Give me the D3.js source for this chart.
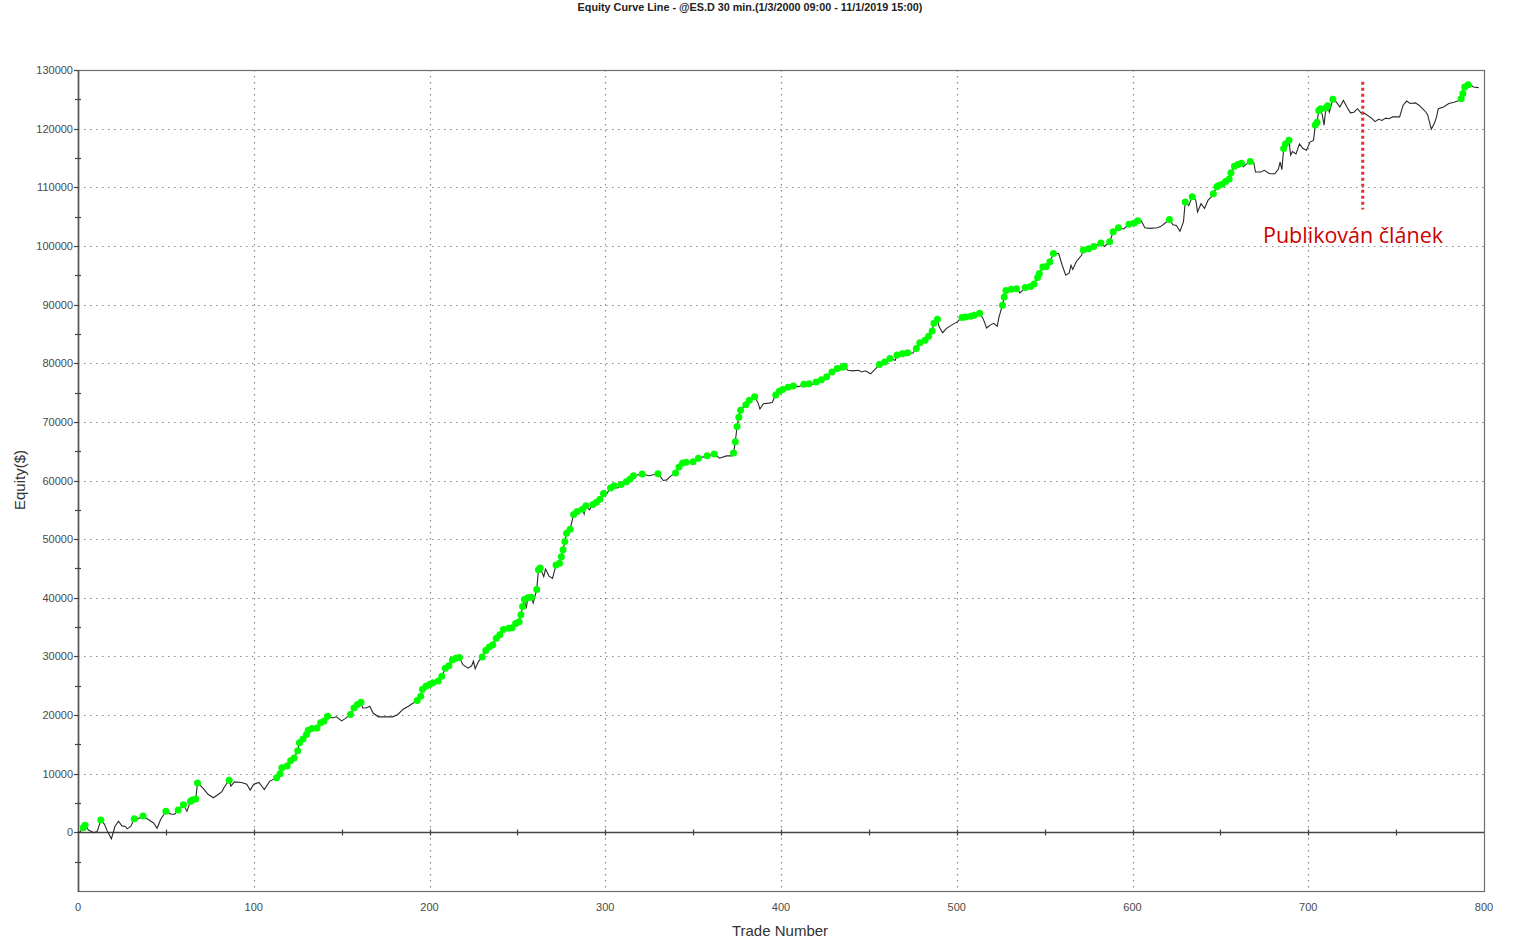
<!DOCTYPE html>
<html><head><meta charset="utf-8">
<script src="https://cdn.jsdelivr.net/npm/d3@7"></script>
<style>body{margin:0;background:#fff}svg{display:block}</style>
</head><body>
<svg id="c" width="1514" height="950"></svg>
<script>
const title = "Equity Curve Line - @ES.D 30 min.(1/3/2000 09:00 - 11/1/2019 15:00)";
const xTicks = [0,100,200,300,400,500,600,700,800];
const yTicks = [0,10000,20000,30000,40000,50000,60000,70000,80000,90000,100000,110000,120000,130000];
const annotationTrade = 731;
const annotationRange = [128000, 106200];
const annotationText = "Publikován článek";
// [trade number, equity $]
const curve = [
[0,0],[1,0],[3,800],[4,1200],[6,400],[8,100],[9,-50],[11,200],[13,2100],[15,1400],[17,0],[19,-1100],[21,1000],[23,1900],[25,1100],[27,1000],[28,600],[30,1000],[32,2300],[34,2300],[37,2800],[40,2200],[43,1600],[45,700],[47,2200],[50,3600],[53,3100],[55,3100],[57,3800],[60,4700],[62,3600],[64,5300],[65,5500],[67,5700],[68,8400],[71,7600],[74,6500],[77,5900],[80,6500],[82,7000],[83,7600],[86,8900],[87,7900],[89,8600],[93,8500],[96,8200],[98,7200],[100,8200],[103,8500],[106,7300],[109,8700],[113,9300],[115,10000],[116,11000],[119,11300],[121,12200],[123,12700],[125,13900],[126,15300],[128,15900],[130,16700],[131,17400],[133,17700],[136,17800],[138,18700],[140,19000],[142,19800],[145,19500],[147,19700],[150,19000],[152,19400],[155,20100],[157,21200],[159,21800],[161,22200],[162,21200],[164,21200],[166,21500],[168,20300],[171,19700],[174,19700],[176,19700],[179,19700],[182,20100],[185,21000],[188,21500],[191,22100],[193,22500],[195,23200],[196,24400],[198,24900],[200,25200],[202,25500],[205,25800],[207,26600],[209,28000],[211,28400],[213,29400],[215,29700],[217,29800],
[219,28600],[222,28000],[224,28400],[225,29200],[226,27900],[228,29200],[230,29900],[232,31000],[234,31600],[236,32000],[238,33100],[240,33700],[242,34600],[245,34800],[247,34900],[249,35600],[251,35900],[252,37100],[253,38500],[254,39700],[255,38200],[256,40000],[258,40100],[259,39100],[261,41400],[262,44800],[263,45100],[265,43600],[266,44900],[268,43700],[270,43300],[272,45600],[274,45900],[275,47000],[276,48200],[277,49600],[278,51000],[280,51700],[282,54200],[284,54700],[287,55100],[288,54300],[289,55700],[291,55000],[293,55900],[295,56300],[297,56800],[299,57800],[300,57400],[301,57800],[303,58700],[305,59100],[307,58700],[309,59300],[312,59800],[314,60200],[316,60800],[321,61100],[325,60800],[330,61150],[332,60400],[333,60000],[335,60100],[337,60700],[340,61300],[342,62300],[344,63000],[346,63100],[350,63200],[353,63800],[358,64200],[362,64500],[365,63800],[369,64200],[372,64200],[373,64700],[374,66600],[375,69200],[376,70800],[377,72000],[380,72900],[382,73700],[385,74300],[387,73200],[388,72200],[390,73100],[393,73200],[395,73300],[397,74600],[399,75200],[401,75500],[404,75900],
[407,76100],[410,76000],[413,76400],[416,76500],[418,76400],[420,76800],[423,77200],[426,77700],[429,78500],[432,79100],[435,79300],[436,79500],[438,78800],[441,78700],[444,78800],[446,78500],[448,78700],[451,78200],[454,79100],[456,79800],[459,80200],[462,80800],[465,80500],[466,81400],[469,81600],[472,81800],[475,81700],[477,82500],[479,83500],[482,83900],[484,84600],[486,85500],[487,86800],[489,87500],[490,86200],[492,85200],[494,85900],[497,86500],[500,87000],[503,87800],[505,87900],[508,88000],[510,88200],[513,88500],[515,87600],[517,86000],[519,86500],[521,86800],[523,86300],[524,87800],[526,89900],[527,91300],[528,92400],[531,92600],[534,92700],[536,92000],[539,92900],[542,93100],[544,93500],[546,94600],[547,95300],[549,96400],[551,96500],[553,97300],[555,98700],[558,98700],[560,96700],[562,95000],[564,95400],[565,96700],[566,96000],[568,97300],[571,98400],[572,99300],[575,99500],[578,99900],[582,100500],[584,99900],[587,100700],[589,102400],[592,103100],[595,102900],[598,103700],[601,103900],[603,104300],
[605,104300],[607,103100],[610,103000],[614,103100],[616,103300],[619,104000],[621,104500],[623,103600],[625,103500],[627,102500],[629,104100],[630,107500],[632,106900],[634,108400],[636,107800],[637,105800],[639,107200],[641,106400],[643,107800],[645,108400],[646,108900],[648,110100],[649,110300],[651,110500],[653,111000],[655,111400],[656,112500],[658,113600],[660,113900],[662,114100],[663,113500],[665,114000],[667,114400],[669,114200],[670,112600],[673,112600],[675,112900],[678,112300],[681,112300],[683,113100],[684,114300],[685,113000],[686,116600],[687,117400],[689,118000],[690,115500],[691,116100],[693,115700],[695,117400],[697,116600],[699,116300],[701,117700],[703,118000],[704,120600],[705,121100],[706,123100],[707,123400],[708,122300],[709,120600],[710,123500],[711,123900],[712,122800],[714,125000],[716,124500],[718,123700],[720,124800],[722,123700],[724,122700],[726,122800],[728,123400],[730,122700],[731,122800],[733,122400],[736,121800],[738,121200],[740,121600],[742,121400],[744,121800],[746,121700],[748,122000],[750,122000],[752,122000],[754,124000],[756,124700],[758,124300],[761,124400],[763,124000],[765,123400],[767,122800],[768,122300],[769,121100],[770,119900],[772,121100],[773,122000],[774,123400],[777,123700],[780,124300],[783,124500],[785,124700],[787,125100],[788,126000],[789,127100],[791,127500],[792,127500],[794,127100],[797,127000]
];

const svg = d3.select("#c");
const L = 78, R = 1484, T = 70, B = 891;
const x = d3.scaleLinear().domain([0, 800]).range([L, R]);
const y = d3.scaleLinear().domain([-10000, 130000]).range([B, T]);
const font = "'Liberation Sans', Arial, sans-serif";

svg.append("text").attr("x", 750).attr("y", 11).attr("text-anchor", "middle")
  .attr("font-family", font).attr("font-weight", "bold").attr("font-size", 10.8)
  .attr("fill", "#222").text(title);

// grid
const grid = svg.append("g").attr("stroke", "#8a8a8a").attr("stroke-width", 1.2).attr("stroke-dasharray", "1.5,4.5");
grid.selectAll("line.h").data(yTicks.filter(v => v > 0 && v < 130000)).enter().append("line")
  .attr("x1", L).attr("x2", R).attr("y1", d => Math.round(y(d)) + 0.5).attr("y2", d => Math.round(y(d)) + 0.5);
grid.selectAll("line.v").data(xTicks.filter(v => v > 0 && v < 800)).enter().append("line")
  .attr("y1", T).attr("y2", B).attr("x1", d => Math.round(x(d)) + 0.5).attr("x2", d => Math.round(x(d)) + 0.5);

// frame
svg.append("rect").attr("x", L + 0.5).attr("y", T + 0.5).attr("width", R - L).attr("height", B - T)
  .attr("fill", "none").attr("stroke", "#707070").attr("stroke-width", 1.2);
svg.append("line").attr("x1", L + 0.5).attr("x2", L + 0.5).attr("y1", T).attr("y2", B + 1)
  .attr("stroke", "#555").attr("stroke-width", 1.6);

// zero line
const y0 = Math.round(y(0)) + 0.5;
svg.append("line").attr("x1", L).attr("x2", R).attr("y1", y0).attr("y2", y0).attr("stroke", "#444").attr("stroke-width", 1.3);
const zeroTicks = d3.range(50, 800, 50);
svg.selectAll("line.zt").data(zeroTicks).enter().append("line")
  .attr("x1", d => Math.round(x(d)) + 0.5).attr("x2", d => Math.round(x(d)) + 0.5)
  .attr("y1", y0 - 3).attr("y2", y0 + 3).attr("stroke", "#444").attr("stroke-width", 1.2);

// y axis ticks
const yMinor = d3.range(-5000, 130000, 10000);
svg.selectAll("line.ym").data(yMinor).enter().append("line")
  .attr("x1", L - 3).attr("x2", L + 3).attr("y1", d => Math.round(y(d)) + 0.5).attr("y2", d => Math.round(y(d)) + 0.5)
  .attr("stroke", "#444").attr("stroke-width", 1.2);
svg.selectAll("line.yM").data(yTicks).enter().append("line")
  .attr("x1", L - 4).attr("x2", L).attr("y1", d => Math.round(y(d)) + 0.5).attr("y2", d => Math.round(y(d)) + 0.5)
  .attr("stroke", "#444").attr("stroke-width", 1.2);
svg.selectAll("text.yl").data(yTicks).enter().append("text")
  .attr("x", L - 5).attr("y", d => y(d) + 4).attr("text-anchor", "end")
  .attr("font-family", font).attr("font-size", 11).attr("fill", "#4a4a4a").text(d => d);
svg.selectAll("text.xl").data(xTicks).enter().append("text")
  .attr("x", d => x(d)).attr("y", B + 20).attr("text-anchor", "middle")
  .attr("font-family", font).attr("font-size", 11).attr("fill", "#4a4a4a").text(d => d);

// axis titles
svg.append("text").attr("transform", "translate(25,480) rotate(-90)").attr("text-anchor", "middle")
  .attr("font-family", font).attr("font-size", 15).attr("fill", "#333").text("Equity($)");
svg.append("text").attr("x", 780).attr("y", 936).attr("text-anchor", "middle")
  .attr("font-family", font).attr("font-size", 15).attr("fill", "#333").text("Trade Number");

// curve
const line = d3.line().x(d => x(d[0])).y(d => y(d[1]));
svg.append("path").datum(curve).attr("d", line).attr("fill", "none")
  .attr("stroke", "#2a2a2a").attr("stroke-width", 1.1);

// new equity highs
let runMax = 0;
const highs = [];
curve.forEach(d => { if (d[1] > runMax) { highs.push(d); runMax = d[1]; } });
svg.selectAll("circle.h").data(highs).enter().append("circle")
  .attr("cx", d => x(d[0])).attr("cy", d => y(d[1])).attr("r", 3.5).attr("fill", "#00ff00");

// annotation
svg.append("line").attr("x1", x(annotationTrade)).attr("x2", x(annotationTrade))
  .attr("y1", y(annotationRange[0])).attr("y2", y(annotationRange[1]))
  .attr("stroke", "#e8302a").attr("stroke-width", 3).attr("stroke-dasharray", "3,3");
svg.append("text").attr("x", 1263).attr("y", 243).attr("font-family", "'Open Sans', sans-serif")
  .attr("font-size", 21.5).attr("fill", "#cc0000").text(annotationText);
</script>
</body></html>
